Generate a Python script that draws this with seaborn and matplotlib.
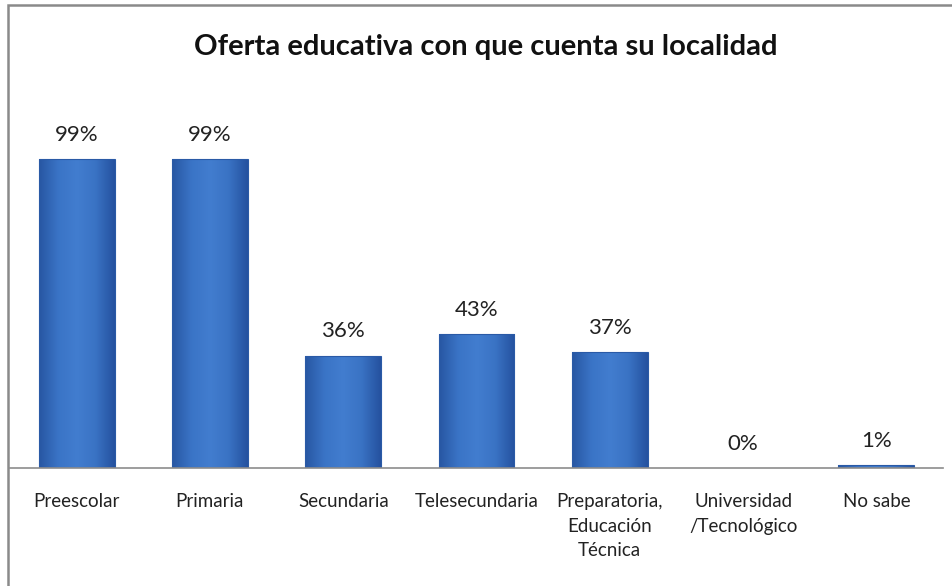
import numpy as np
import pandas as pd
import matplotlib.pyplot as plt
import seaborn as sns
from matplotlib.patches import Rectangle
from matplotlib.colors import LinearSegmentedColormap

# data
categorias = ["Preescolar", "Primaria", "Secundaria", "Telesecundaria",
              "Preparatoria,\nEducación\nTécnica", "Universidad\n/Tecnológico", "No sabe"]
porcentajes = [0.99, 0.99, 0.36, 0.43, 0.37, 0.00, 0.01]
etiquetas = ["99%", "99%", "36%", "43%", "37%", "0%", "1%"]

sns.set_theme(style="white")
plt.rcParams["font.family"] = ["Lato", "DejaVu Sans"]

df = pd.DataFrame({"categoria": categorias, "valor": porcentajes})

W, H = 952, 586
fig = plt.figure(figsize=(W / 100, H / 100), dpi=100)
# plot area in pixel units -> figure fractions
x0, x1 = 10, 943
ytop, ybase = 93, 468
ax = fig.add_axes([x0 / W, 1 - ybase / H, (x1 - x0) / W, (ybase - ytop) / H])

sns.barplot(data=df, x="categoria", y="valor", color="#3b73c2", width=0.57,
            ax=ax, saturation=1)

# gradient fill like Excel bars
cmap = LinearSegmentedColormap.from_list(
    "excel", ["#2857a3", "#3a74c6", "#427dcf", "#3a73c4", "#2552a0"])
grad = np.linspace(0, 1, 64).reshape(1, -1)
for p in ax.patches:
    x, y = p.get_x(), p.get_y()
    w, h = p.get_width(), p.get_height()
    if h <= 0:
        continue
    p.set_facecolor("none")
    p.set_edgecolor("#2a5aa6")
    p.set_linewidth(0.8)
    im = ax.imshow(grad, cmap=cmap, aspect="auto", extent=[x, x + w, y, y + h],
                   zorder=p.get_zorder() - 0.1, interpolation="bicubic")
    im.set_clip_path(p)
ax.set_xlim(-0.5, len(categorias) - 0.5)
ax.set_ylim(0, 1.2)

for i, (v, lab) in enumerate(zip(porcentajes, etiquetas)):
    ax.text(i, v + 0.045, lab, ha="center", va="bottom", fontsize=16, color="#222222")

ax.set_xlabel("")
ax.set_ylabel("")
ax.set_yticks([])
ax.set_xticks(range(len(categorias)))
ax.set_xticklabels(categorias, fontsize=13.5, color="#222222", linespacing=1.55, va="top")
ax.tick_params(axis="x", length=0, pad=18)
for s in ["top", "right", "left"]:
    ax.spines[s].set_visible(False)
ax.spines["bottom"].set_color("#8c8c8c")
ax.spines["bottom"].set_linewidth(1.2)

fig.text(486 / W, 1 - 47 / H, "Oferta educativa con que cuenta su localidad",
         ha="center", va="center", fontsize=21, fontweight="bold", color="#111111")

# chart frame
fig.patches.append(Rectangle((8 / W, -0.01), 1.0, 1 - 5 / H + 0.01, transform=fig.transFigure,
                             fill=False, edgecolor="#8a8a8a", linewidth=1.8))

fig.savefig("out.png", dpi=100)
